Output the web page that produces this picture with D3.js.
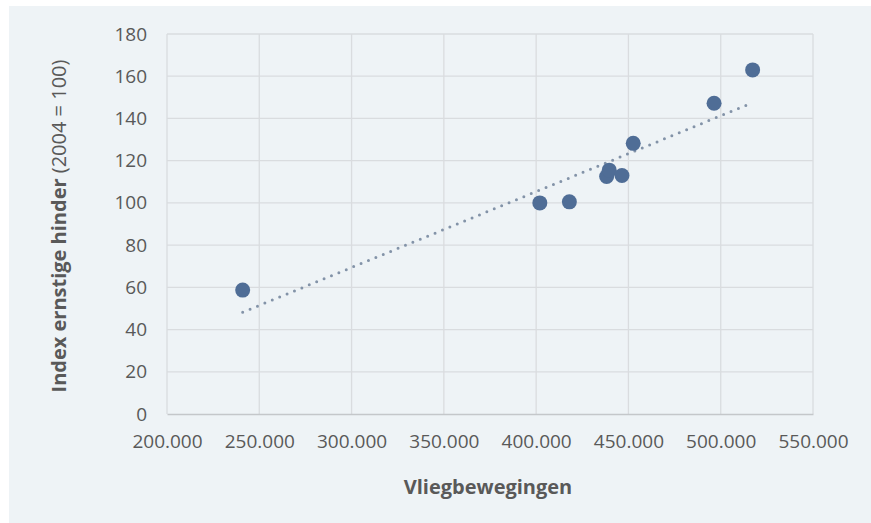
<!DOCTYPE html>
<html>
<head>
<meta charset="utf-8">
<script src="https://cdn.jsdelivr.net/npm/d3@7"></script>
<style>
  body { margin: 0; background: #fff; }
  svg text { font-family: "Open Sans", sans-serif; fill: #595959; }
</style>
</head>
<body>
<svg id="chart" width="871" height="523"></svg>
<script>
// vliegbewegingen vs index ernstige hinder (2004 = 100)
var movements = [241000, 402000, 418000, 438200, 439600, 446500, 452600, 496400, 517300];
var hindrance = [58.7, 100, 100.5, 112.5, 115.5, 113, 128.2, 147.2, 163];
var xTicks = [200000, 250000, 300000, 350000, 400000, 450000, 500000, 550000];
var yTicks = [0, 20, 40, 60, 80, 100, 120, 140, 160, 180];

var svg = d3.select("#chart");

svg.append("rect").attr("x", 9).attr("y", 6).attr("width", 862).attr("height", 517)
    .attr("fill", "#eef3f6");

var x = d3.scaleLinear().domain([200000, 550000]).range([167, 813]);
var y = d3.scaleLinear().domain([0, 180]).range([414, 34]);

var fmt = function(d) { return d3.format(",")(d).replace(/,/g, "."); };

// grid
svg.append("g").selectAll("line").data(yTicks.slice(1)).enter().append("line")
    .attr("x1", x.range()[0]).attr("x2", x.range()[1])
    .attr("y1", function(d) { return y(d); }).attr("y2", function(d) { return y(d); })
    .attr("stroke", "#d9dcdf").attr("stroke-width", 1.3);
svg.append("g").selectAll("line").data(xTicks).enter().append("line")
    .attr("x1", function(d) { return x(d); }).attr("x2", function(d) { return x(d); })
    .attr("y1", y.range()[1]).attr("y2", y.range()[0])
    .attr("stroke", "#d9dcdf").attr("stroke-width", 1.3);

// axes
var xAxis = svg.append("g").attr("transform", "translate(0," + y(0) + ")")
    .call(d3.axisBottom(x).tickValues(xTicks).tickFormat(fmt).tickSize(0).tickPadding(21));
xAxis.select(".domain").attr("stroke", "#c4c7ca").attr("stroke-width", 1.3);
xAxis.selectAll("text").style("font-size", "19px");

var yAxis = svg.append("g").attr("transform", "translate(" + (x.range()[0] - 20) + ",0)")
    .call(d3.axisLeft(y).tickValues(yTicks).tickSize(0).tickPadding(0));
yAxis.select(".domain").remove();
yAxis.selectAll("text").style("font-size", "19px");

// trendline (least squares)
var mx = d3.mean(movements), my = d3.mean(hindrance);
var sxy = d3.sum(movements, function(d, i) { return (d - mx) * (hindrance[i] - my); });
var sxx = d3.sum(movements, function(d) { return (d - mx) * (d - mx); });
var slope = sxy / sxx, icpt = my - slope * mx;
var ext = d3.extent(movements);
svg.append("path")
    .datum(ext)
    .attr("d", d3.line().x(function(d) { return x(d); }).y(function(d) { return y(icpt + slope * d); }))
    .attr("fill", "none").attr("stroke", "#8393a8").attr("stroke-width", 3)
    .attr("stroke-linecap", "round").attr("stroke-dasharray", "0 8");

// points
svg.append("g").selectAll("circle").data(movements).enter().append("circle")
    .attr("cx", function(d) { return x(d); })
    .attr("cy", function(d, i) { return y(hindrance[i]); })
    .attr("r", 7.5).attr("fill", "#4f6d96");

// titles
svg.append("text").attr("x", 488).attr("y", 494).attr("text-anchor", "middle")
    .style("font-size", "20px").style("font-weight", "bold").text("Vliegbewegingen");

var yt = svg.append("text").attr("transform", "translate(66,226) rotate(-90)")
    .attr("text-anchor", "middle").style("font-size", "20px");
yt.append("tspan").style("font-weight", "bold").text("Index ernstige hinder");
yt.append("tspan").text(" (2004 = 100)");
</script>
</body>
</html>
